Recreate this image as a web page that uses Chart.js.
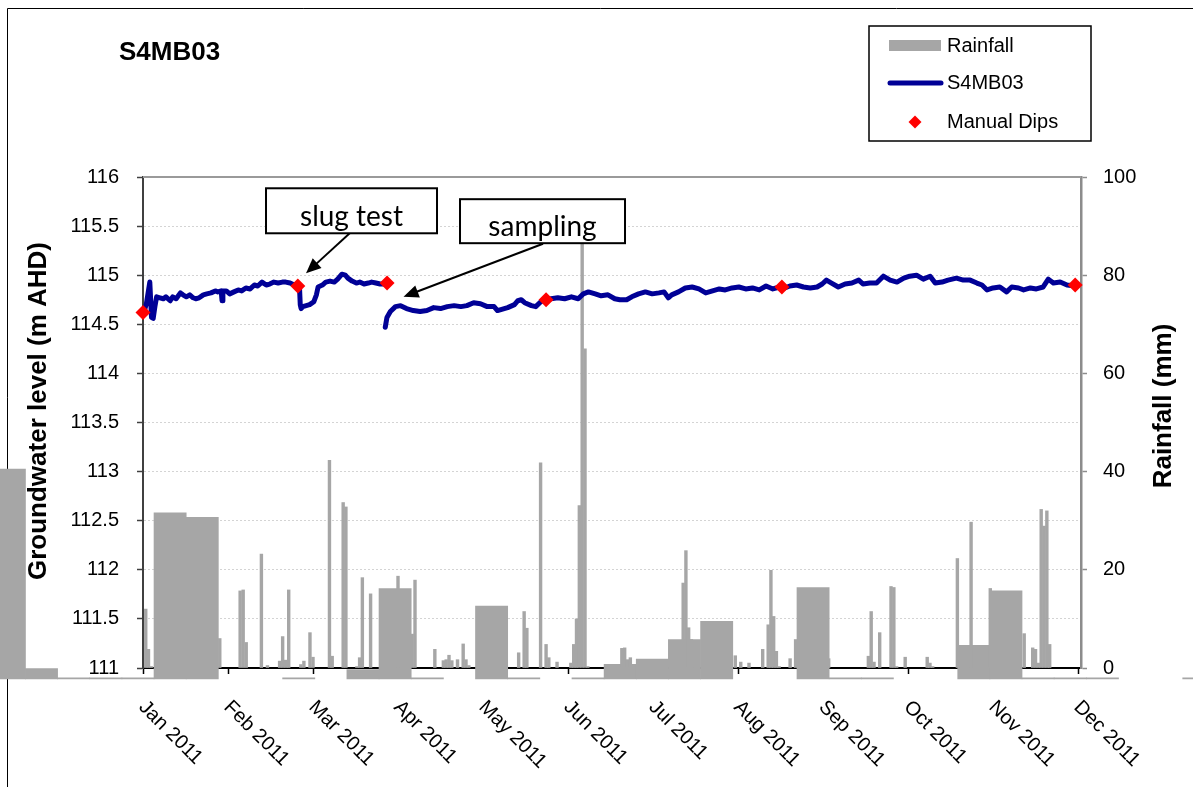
<!DOCTYPE html>
<html>
<head>
<meta charset="utf-8">
<title>S4MB03</title>
<script src="https://cdn.jsdelivr.net/npm/chart.js@4.4.1/dist/chart.umd.min.js"></script>
<style>
  html, body { margin: 0; padding: 0; background: #fff; }
  canvas { display: block; }
</style>
</head>
<body>
<canvas id="myChart" width="1193" height="787"></canvas>
<script>
"use strict"

const monthLabels = ['Jan 2011', 'Feb 2011', 'Mar 2011', 'Apr 2011', 'May 2011', 'Jun 2011',
    'Jul 2011', 'Aug 2011', 'Sep 2011', 'Oct 2011', 'Nov 2011', 'Dec 2011'];
const daysInMonth = [31, 28, 31, 30, 31, 30, 31, 31, 30, 31, 30, 31];

// LOGGER RECORD (time in months from 1 Jan 2011, level in m AHD)
const levelT = [
    0.01, 0.04, 0.08, 0.10, 0.12, 0.14, 0.16, 0.20, 0.24, 0.27, 0.32, 0.35, 0.39, 0.44, 0.47, 0.51,
    0.55, 0.59, 0.62, 0.66, 0.71, 0.75, 0.80, 0.85, 0.88, 0.92, 0.93, 0.94, 0.98, 1.02, 1.07, 1.12,
    1.16, 1.21, 1.26, 1.31, 1.35, 1.40, 1.45, 1.49, 1.54, 1.59, 1.64, 1.68, 1.73, 1.78, 1.81, 1.84,
    1.85, 1.86, 1.88, 1.92, 1.96, 2.01, 2.04, 2.06, 2.11, 2.15, 2.20, 2.25, 2.29, 2.34, 2.38, 2.41,
    2.46, 2.51, 2.55, 2.60, 2.65, 2.69, 2.74, 2.79, 2.84,
    2.845,
    2.85, 2.87, 2.91, 2.97, 3.03, 3.10, 3.18, 3.26, 3.34, 3.42, 3.50, 3.58, 3.66, 3.74, 3.81, 3.89,
    3.97, 4.05, 4.13, 4.17, 4.21, 4.29, 4.37, 4.41, 4.45, 4.49, 4.57, 4.62, 4.68, 4.75, 4.80, 4.88,
    4.96, 5.04, 5.12, 5.18, 5.24, 5.32, 5.39, 5.47, 5.55, 5.61, 5.69, 5.75, 5.83, 5.91, 5.99, 6.07,
    6.13, 6.18, 6.22, 6.30, 6.38, 6.46, 6.54, 6.62, 6.70, 6.78, 6.85, 6.93, 7.01, 7.09, 7.17, 7.25,
    7.33, 7.41, 7.49, 7.55,
    7.61, 7.69, 7.77, 7.85, 7.93, 7.99, 8.04, 8.10, 8.18, 8.26, 8.34, 8.42, 8.47, 8.55, 8.63, 8.71,
    8.79, 8.87, 8.95, 9.02, 9.10, 9.18, 9.26, 9.32, 9.40, 9.47, 9.57, 9.65, 9.73, 9.81, 9.87, 9.93,
    10.00, 10.08, 10.16, 10.22, 10.30, 10.36, 10.44, 10.51, 10.59, 10.65, 10.71, 10.79, 10.87, 10.97
];
const levelV = [
    114.62, 114.71, 114.93, 114.57, 114.56, 114.68, 114.78, 114.77, 114.76, 114.78, 114.74, 114.78, 114.76, 114.82, 114.80, 114.78,
    114.80, 114.77, 114.76, 114.77, 114.80, 114.81, 114.82, 114.84, 114.83, 114.84, 114.74, 114.84, 114.84, 114.81, 114.83, 114.85,
    114.84, 114.87, 114.86, 114.90, 114.89, 114.93, 114.90, 114.91, 114.93, 114.92, 114.93, 114.93, 114.92, 114.90, 114.90, 114.90,
    114.70, 114.66, 114.68, 114.69, 114.70, 114.73, 114.80, 114.88, 114.90, 114.93, 114.94, 114.93, 114.96, 115.01, 115.00, 114.97,
    114.94, 114.92, 114.93, 114.91, 114.92, 114.93, 114.92, 114.91, 114.91,
    null,
    114.47, 114.57, 114.63, 114.68, 114.69, 114.66, 114.64, 114.63, 114.64, 114.67, 114.66, 114.68, 114.69, 114.68, 114.69, 114.72,
    114.71, 114.68, 114.68, 114.64, 114.65, 114.67, 114.70, 114.74, 114.75, 114.72, 114.69, 114.68, 114.73, 114.75, 114.76, 114.77,
    114.76, 114.78, 114.76, 114.81, 114.83, 114.81, 114.79, 114.80, 114.76, 114.75, 114.75, 114.78, 114.81, 114.83, 114.81, 114.82,
    114.83, 114.77, 114.80, 114.83, 114.87, 114.88, 114.86, 114.82, 114.84, 114.86, 114.85, 114.87, 114.88, 114.86, 114.87, 114.85,
    114.89, 114.86, 114.88, 114.87,
    114.89, 114.90, 114.88, 114.87, 114.88, 114.91, 114.95, 114.92, 114.88, 114.91, 114.92, 114.95, 114.91, 114.92, 114.92, 114.99,
    114.95, 114.93, 114.97, 114.99, 115.00, 114.96, 114.99, 114.92, 114.93, 114.95, 114.97, 114.95, 114.95, 114.92, 114.90, 114.85,
    114.87, 114.88, 114.83, 114.88, 114.87, 114.85, 114.87, 114.86, 114.88, 114.96, 114.92, 114.93, 114.90, 114.89
];

// MANUAL DIPS
const dipDates = ['2011-01-01', '2011-02-24', '2011-03-28', '2011-05-24', '2011-08-17', '2011-11-30'];
const dipLevel = [114.62, 114.89, 114.92, 114.75, 114.88, 114.90];

// DAILY RAINFALL (mm)
const rainDates = [
    '2011-01-02', '2011-01-03', '2011-01-04', '2011-01-29', '2011-02-05', '2011-02-06', '2011-02-07', '2011-02-12',
    '2011-02-14', '2011-02-18', '2011-02-19', '2011-02-20', '2011-02-21', '2011-02-25', '2011-02-26', '2011-02-28',
    '2011-03-01', '2011-03-07', '2011-03-08', '2011-03-12', '2011-03-13', '2011-03-17', '2011-03-18', '2011-03-19',
    '2011-03-22', '2011-04-01', '2011-04-06', '2011-04-07', '2011-04-14', '2011-04-17', '2011-04-18', '2011-04-19',
    '2011-04-20', '2011-04-22', '2011-04-24', '2011-04-25', '2011-04-26', '2011-05-14', '2011-05-16', '2011-05-17',
    '2011-05-22', '2011-05-24', '2011-05-25', '2011-05-28', '2011-06-02', '2011-06-03', '2011-06-04', '2011-06-05',
    '2011-06-06', '2011-06-07', '2011-06-08', '2011-06-20', '2011-06-21', '2011-06-22', '2011-06-23', '2011-07-12',
    '2011-07-13', '2011-07-14', '2011-07-15', '2011-07-31', '2011-08-02', '2011-08-05', '2011-08-10', '2011-08-12',
    '2011-08-13', '2011-08-14', '2011-08-15', '2011-08-16', '2011-08-20', '2011-08-22', '2011-09-03', '2011-09-17',
    '2011-09-18', '2011-09-19', '2011-09-21', '2011-09-25', '2011-09-26', '2011-09-27', '2011-09-30', '2011-10-08',
    '2011-10-09', '2011-10-10', '2011-10-19', '2011-10-24', '2011-10-31', '2011-11-12', '2011-11-15', '2011-11-16',
    '2011-11-17', '2011-11-18', '2011-11-19', '2011-11-20', '2011-11-21'
];
const rainMm = [
    12.0, 3.8, 0.3, 6.0, 15.7, 15.9, 5.2, 23.2,
    0.5, 1.4, 6.4, 1.6, 15.9, 0.7, 1.4, 7.2,
    2.2, 42.3, 2.4, 33.7, 32.8, 0.3, 2.1, 18.4,
    15.1, 18.7, 6.9, 17.9, 3.8, 1.5, 1.7, 2.6,
    1.5, 1.7, 4.9, 1.7, 0.5, 3.1, 11.5, 8.1,
    41.8, 4.8, 2.1, 1.2, 1.0, 4.8, 10.0, 33.1,
    86.3, 65.0, 0.3, 4.0, 4.1, 1.7, 2.1, 17.3,
    23.9, 8.2, 5.8, 2.5, 1.2, 1.0, 3.8, 8.8,
    19.9, 10.5, 3.4, 0.3, 1.9, 5.8, 1.9, 2.4,
    11.5, 1.2, 7.2, 16.6, 16.4, 0.3, 2.2, 2.2,
    1.0, 0.3, 22.3, 29.7, 16.2, 7.0, 4.1, 3.8,
    1.0, 32.3, 28.9, 32.0, 4.8
];

// PERIOD TOTALS (centre in months from 1 Jan 2011, top in mm, all bars start at blockBase)
const blockMid = [-1.572, -1.194, -0.816, -0.437, -0.059, 0.319, 0.697, 1.832, 2.588, 2.966, 3.345, 4.101,
    4.479, 5.236, 5.614, 5.992, 6.370, 6.749, 7.883, 8.261, 8.639, 9.774, 10.152, 10.530, 10.908, 11.287, 12.421];
const blockTop = [40.5, 0, -2.0, -2.0, -2.0, 31.6, 30.7, -2.0, -0.3, 16.2, -2.0, 12.6,
    -2.0, -2.0, 0.75, 1.8, 5.8, 9.5, 16.4, -2.0, -2.0, 4.6, 15.7, -2.0, -2.0, -2.0, -2.0];
const blockBase = -2.24;

// TEXT BOXES WITH ARROWS (positions in axis units: months, m AHD)
const notes = [
    { text: 'slug test', x: 2.453, y: 115.656, w: 171, h: 45, fromX: 2.435, fromY: 115.43, toX: 1.918, toY: 115.02 },
    { text: 'sampling', x: 4.70, y: 115.55, w: 165, h: 44, fromX: 4.706, fromY: 115.32, toX: 3.065, toY: 114.78 }
];

const SANS = '"Liberation Sans", Arial, sans-serif';
const GREY = '#a6a6a6';
const NAVY = '#000096';

function monthPos(iso) {
    const [y, m, d] = iso.split('-').map(Number);
    return (y - 2011) * 12 + (m - 1) + (d - 1) / daysInMonth[m - 1];
}

const xMax = 11.035;

// extra drawing: frame, titles, rotated month labels, notes and legend
const extras = {
    id: 'extras',
    beforeDraw(chart) {
        const c = chart.ctx;
        c.save();
        c.fillStyle = '#fff';
        c.fillRect(0, 0, chart.width, chart.height);
        c.strokeStyle = '#000';
        c.lineWidth = 1;
        c.beginPath();
        c.moveTo(7.5, chart.height);
        c.lineTo(7.5, 8.5);
        c.lineTo(chart.width, 8.5);
        c.stroke();
        c.restore();
    },
    beforeDatasetsDraw(chart) {
        const c = chart.ctx, a = chart.chartArea;
        c.save();
        c.strokeStyle = '#9a9a9a';
        c.lineWidth = 2;
        c.beginPath();
        c.moveTo(a.left, a.top);
        c.lineTo(a.right, a.top);
        c.stroke();
        c.restore();
    },
    afterDraw(chart) {
        const c = chart.ctx, a = chart.chartArea;
        const xs = chart.scales.x, ys = chart.scales.y;
        c.save();
        c.fillStyle = '#000';

        // chart title
        c.font = 'bold 26px ' + SANS;
        c.textAlign = 'left';
        c.textBaseline = 'middle';
        c.fillText('S4MB03', 119, 53);

        // axis titles
        c.textAlign = 'center';
        c.save();
        c.translate(39, 411);
        c.rotate(-Math.PI / 2);
        c.fillText('Groundwater level (m AHD)', 0, 0);
        c.restore();
        c.save();
        c.translate(1164, 406);
        c.rotate(-Math.PI / 2);
        c.fillText('Rainfall (mm)', 0, 0);
        c.restore();

        // month labels, slanted down to the right
        c.font = '20px ' + SANS;
        c.textAlign = 'left';
        c.textBaseline = 'alphabetic';
        monthLabels.forEach((label, i) => {
            c.save();
            c.translate(xs.getPixelForValue(i), a.bottom + 35);
            c.rotate(Math.PI / 4);
            c.fillText(label, 0, 7);
            c.restore();
        });

        // boxes with arrows
        notes.forEach(n => {
            const cx = xs.getPixelForValue(n.x), cy = ys.getPixelForValue(n.y);
            const x0 = xs.getPixelForValue(n.fromX), y0 = ys.getPixelForValue(n.fromY);
            const x1 = xs.getPixelForValue(n.toX), y1 = ys.getPixelForValue(n.toY);
            const ang = Math.atan2(y1 - y0, x1 - x0);
            c.strokeStyle = '#000';
            c.lineWidth = 2;
            c.beginPath();
            c.moveTo(x0, y0);
            c.lineTo(x1 - 12 * Math.cos(ang), y1 - 12 * Math.sin(ang));
            c.stroke();
            c.beginPath();
            c.moveTo(x1, y1);
            c.lineTo(x1 - 15 * Math.cos(ang) + 6.5 * Math.sin(ang), y1 - 15 * Math.sin(ang) - 6.5 * Math.cos(ang));
            c.lineTo(x1 - 15 * Math.cos(ang) - 6.5 * Math.sin(ang), y1 - 15 * Math.sin(ang) + 6.5 * Math.cos(ang));
            c.closePath();
            c.fill();
            c.fillStyle = '#fff';
            c.fillRect(cx - n.w / 2, cy - n.h / 2, n.w, n.h);
            c.strokeRect(cx - n.w / 2, cy - n.h / 2, n.w, n.h);
            c.fillStyle = '#000';
            c.font = '28px Lato, "Open Sans", sans-serif';
            c.textAlign = 'center';
            c.fillText(n.text, cx, cy + 15);
        });

        // legend
        const lx = 869, ly = 26;
        c.fillStyle = '#fff';
        c.fillRect(lx, ly, 222, 115);
        c.strokeStyle = '#000';
        c.lineWidth = 1.5;
        c.strokeRect(lx, ly, 222, 115);
        const ds = chart.data.datasets;
        c.fillStyle = ds[3].backgroundColor;
        c.fillRect(lx + 20, ly + 14, 52, 11);
        c.strokeStyle = ds[1].borderColor;
        c.lineWidth = 5;
        c.lineCap = 'round';
        c.beginPath();
        c.moveTo(lx + 21, ly + 57);
        c.lineTo(lx + 72, ly + 57);
        c.stroke();
        c.fillStyle = ds[0].backgroundColor;
        c.beginPath();
        c.moveTo(lx + 46, ly + 89.5);
        c.lineTo(lx + 52.5, ly + 96);
        c.lineTo(lx + 46, ly + 102.5);
        c.lineTo(lx + 39.5, ly + 96);
        c.closePath();
        c.fill();
        c.fillStyle = '#000';
        c.font = '20px ' + SANS;
        c.textAlign = 'left';
        c.textBaseline = 'middle';
        c.fillText(ds[3].label, lx + 78, ly + 20);
        c.fillText(ds[1].label, lx + 78, ly + 57);
        c.fillText(ds[0].label, lx + 78, ly + 96);
        c.restore();
    }
};

const tickFont = { family: SANS, size: 20 };

const config = {
    data: {
        datasets: [{
            type: 'line',
            label: 'Manual Dips',
            data: dipDates.map((d, i) => ({ x: monthPos(d), y: dipLevel[i] })),
            yAxisID: 'y',
            showLine: false,
            pointStyle: 'rectRot',
            pointRadius: 7.5,
            pointBorderWidth: 0,
            backgroundColor: '#ff0000',
            borderColor: '#ff0000',
            clip: false,
            order: 0
        }, {
            type: 'line',
            label: 'S4MB03',
            data: levelT.map((t, i) => ({ x: t, y: levelV[i] })),
            yAxisID: 'y',
            borderColor: NAVY,
            borderWidth: 5,
            borderJoinStyle: 'round',
            borderCapStyle: 'round',
            pointRadius: 0,
            spanGaps: false,
            tension: 0,
            order: 1
        }, {
            // period totals, one bar per 0.378 month slot
            type: 'bar',
            label: 'Rainfall totals',
            data: blockMid.map((m, i) => ({ x: m, y: [blockBase, blockTop[i]] })),
            yAxisID: 'y1',
            backgroundColor: GREY,
            grouped: false,
            barThickness: 32.2,
            clip: false,
            order: 3
        }, {
            // daily totals, one bar per day
            type: 'bar',
            label: 'Rainfall',
            data: rainDates.map((d, i) => ({ x: monthPos(d), y: rainMm[i] })),
            yAxisID: 'y1',
            backgroundColor: GREY,
            grouped: false,
            barThickness: 2.75,
            order: 2
        }]
    },
    options: {
        responsive: false,
        animation: false,
        devicePixelRatio: 1,
        layout: { padding: { top: 177, left: 0, right: 0, bottom: 0 } },
        plugins: {
            legend: { display: false },
            tooltip: { enabled: false }
        },
        scales: {
            x: {
                type: 'linear',
                position: 'bottom',
                min: 0,
                max: xMax,
                offset: false,
                afterBuildTicks: s => { s.ticks = monthLabels.map((l, i) => ({ value: i })); },
                afterFit: s => { s.height = 119; },
                ticks: { display: false },
                grid: { offset: false, drawOnChartArea: false, tickLength: 6, tickColor: '#000', tickWidth: 1.5 },
                border: { color: '#000', width: 2 }
            },
            y: {
                position: 'left',
                min: 111,
                max: 116,
                afterFit: s => { s.width = 143; },
                ticks: { stepSize: 0.5, font: tickFont, color: '#000', padding: 18, callback: v => String(v) },
                grid: { color: '#d4d4d4', lineWidth: 1, tickLength: 6, tickColor: '#404040', tickWidth: 1.5 },
                border: { color: '#404040', width: 2, dash: [2, 2] }
            },
            y1: {
                position: 'right',
                min: 0,
                max: 100,
                afterFit: s => { s.width = 112; },
                ticks: { stepSize: 20, font: tickFont, color: '#000', padding: 16 },
                grid: { drawOnChartArea: false, tickLength: 6, tickColor: '#8c8c8c', tickWidth: 1.5 },
                border: { color: '#8c8c8c', width: 2.5 }
            }
        }
    },
    plugins: [extras]
};

const myChart = new Chart(document.getElementById('myChart'), config);
</script>
</body>
</html>
